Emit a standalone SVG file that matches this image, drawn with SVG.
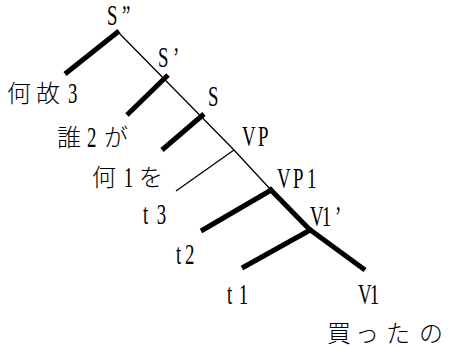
<svg xmlns="http://www.w3.org/2000/svg" width="450" height="348" viewBox="0 0 450 348">
<style>
.lat{font-family:"Liberation Serif","DejaVu Serif",serif;font-size:29px;fill:#000}
.cjk{font-family:"Noto Sans CJK JP","Noto Sans CJK SC",sans-serif;font-size:24px;fill:#000;font-weight:300}
.thin{stroke:#000;stroke-width:1.3;fill:none}
.thick{stroke:#000;stroke-width:5;fill:none;stroke-linecap:butt}
</style>
<rect width="450" height="348" fill="#fff"/>
<g id="connectors">
<polyline class="thin" points="118,32 234,150 271,190"/>
<line class="thin" x1="234" y1="150" x2="176" y2="191"/>
<line class="thick" x1="119" y1="31" x2="65" y2="74"/>
<line class="thick" x1="168" y1="75" x2="127" y2="115"/>
<line class="thick" x1="204" y1="114" x2="162" y2="150"/>
<line class="thick" x1="273" y1="189" x2="201" y2="231"/>
<line class="thick" x1="269" y1="188" x2="311" y2="231"/>
<line class="thick" x1="312" y1="229" x2="242" y2="268"/>
<line class="thick" x1="309" y1="229" x2="365" y2="270"/>
</g>
<g id="node-S2"><text class="lat" transform="scale(0.65 1)" x="164.6 187.7" y="25">S”</text></g>
<g id="node-S1"><text class="lat" transform="scale(0.65 1)" x="243.1 266.2" y="67">S’</text></g>
<g id="node-S"><text class="lat" transform="scale(0.65 1)" x="320" y="106">S</text></g>
<g id="node-VP"><text class="lat" transform="scale(0.65 1)" x="372.3 396.9" y="146">VP</text></g>
<g id="node-VP1"><text class="lat" transform="scale(0.65 1)" x="426.2 450.8 472.4" y="188">VP1</text></g>
<g id="node-V1bar"><text class="lat" transform="scale(0.65 1)" x="476.9 494.9 515.4" y="226">V1’</text></g>
<g id="node-V1"><text class="lat" transform="scale(0.65 1)" x="550.8 568.8" y="304">V1</text></g>
<g id="node-t1"><text class="lat" transform="scale(0.65 1)" x="349.2 367.2" y="304">t1</text></g>
<g id="node-t2"><text class="lat" transform="scale(0.65 1)" x="270.8 284.6" y="264">t2</text></g>
<g id="node-t3"><text class="lat" transform="scale(0.65 1)" x="220 241.1" y="224">t3</text></g>
<g id="node-naze">
<text class="cjk" x="7 36" y="101.5">何故</text>
<text class="lat" transform="scale(0.65 1)" x="104.6" y="103">3</text>
</g>
<g id="node-dare">
<text class="cjk" x="57" y="145.5">誰</text>
<text class="lat" transform="scale(0.65 1)" x="133.8" y="147">2</text>
<text class="cjk" x="104" y="145.5">が</text>
</g>
<g id="node-nani">
<text class="cjk" x="92" y="185.5">何</text>
<text class="lat" transform="scale(0.65 1)" x="190.3" y="187">1</text>
<text class="cjk" x="139" y="185.5">を</text>
</g>
<g id="node-katta"><text class="cjk" x="327 355 386 419" y="342">買ったの</text></g>
</svg>
